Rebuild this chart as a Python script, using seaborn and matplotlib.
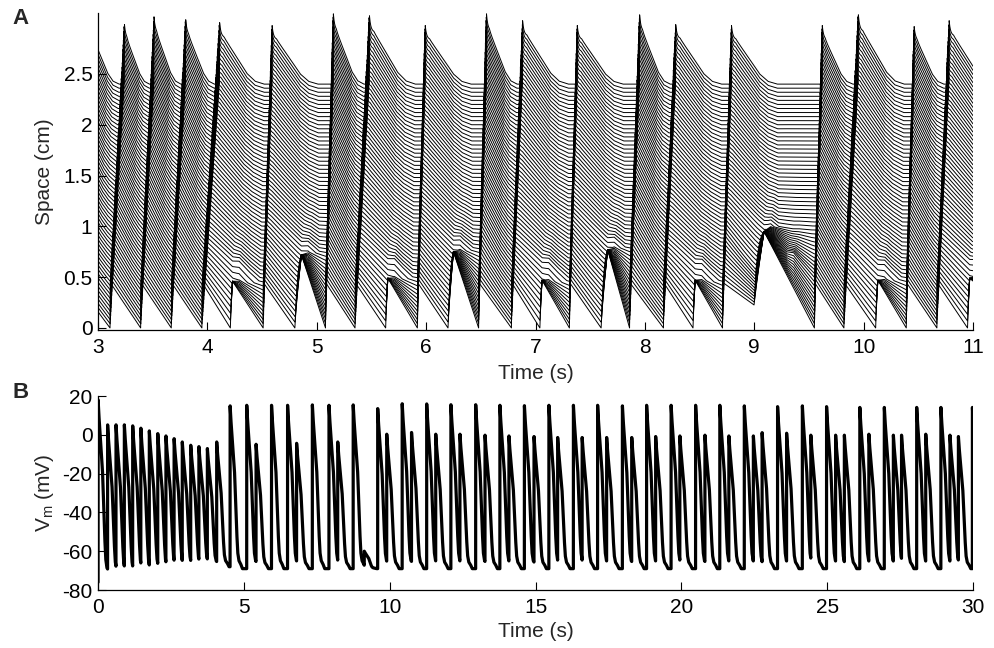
import numpy as np
import pandas as pd
import matplotlib
matplotlib.use("Agg")
import matplotlib.pyplot as plt
import seaborn as sns

# ---------------- panel A: waves ----------------
# full waves: onset at bottom trace (s), arrival at top trace (s), top peak (cm)
wave_t0 = [2.80, 3.11, 3.39, 3.67, 3.95, 4.51, 5.08, 5.35, 5.92, 6.48,
           6.78, 7.31, 7.86, 8.17, 8.71, 9.55, 9.82, 10.39, 10.67]
wave_t1 = [2.92, 3.24, 3.51, 3.80, 4.11, 4.59, 5.15, 5.48, 5.99, 6.55,
           6.88, 7.38, 7.95, 8.28, 8.79, 9.62, 9.95, 10.46, 10.78]
wave_top = [3.05, 3.01, 3.09, 3.06, 3.03, 3.00, 3.12, 3.10, 3.00, 3.12,
            3.05, 3.00, 3.11, 3.01, 3.00, 3.00, 3.11, 2.99, 3.05]
# local events that die out: onset (s), crest time (s), crest height (cm)
bump_t0 = [4.21, 4.80, 5.63, 6.20, 7.04, 7.60, 8.44, 8.98, 9.29, 10.11, 10.95]
bump_t1 = [4.23, 4.86, 5.65, 6.25, 7.06, 7.66, 8.46, 9.09, 9.30, 10.13, 10.97]
bump_h = [0.45, 0.71, 0.48, 0.74, 0.46, 0.76, 0.46, 0.94, 0.49, 0.46, 0.48]

# decay of one trace after the wave passed (fraction of decay time -> fraction of height)
decay_u = [0, 0.1, 0.62, 0.8, 1.0]
decay_top = [1.0, 0.98, 0.22, 0.06, 0.0]
hump_s = [0, 0.06, 0.15, 0.3, 0.42]
hump_v = [0, 1.0, 0.65, 0.15, 0.0]

# ---------------- panel B: spikes ----------------
spike_t = [0.004, 0.33, 0.617, 0.903, 1.19, 1.47, 1.76, 2.05, 2.33, 2.61, 2.89,
           3.18, 3.46, 3.75, 4.07, 4.53, 5.10, 5.42, 5.95, 6.50, 6.81, 7.35,
           7.92, 8.22, 8.75, 9.13, 9.59, 9.90, 10.43, 10.75, 11.27, 11.58,
           12.10, 12.41, 12.95, 13.27, 13.78, 14.09, 14.62, 14.95, 15.46,
           15.76, 16.30, 16.60, 17.13, 17.44, 17.98, 18.30, 18.81, 19.12,
           19.65, 19.95, 20.49, 20.81, 21.32, 21.63, 22.16, 22.47, 22.77,
           23.30, 23.61, 24.15, 24.44, 24.98, 25.29, 25.59, 26.12, 26.43,
           26.96, 27.27, 27.55, 28.07, 28.38, 28.90, 29.21, 29.50, 29.98]
spike_peak = [18, 5.1, 5.4, 5.4, 4.6, 3.4, 2.0, 0.6, -0.6, -2.0, -3.7,
              -5.4, -6.1, -7.1, -3.7, 14.9, 15.2, -4.9, 15.2, 15.2, -4.4, 15.4,
              15.2, -3.7, 15.4, -60, 13.5, 0.3, 16.0, 1.2, 15.9, 0.3,
              15.5, 0.3, 15.5, -0.2, 15.2, -0.6, 15.0, -0.9, 15.2,
              -1.4, 15.2, -1.4, 15.2, -1.4, 14.9, -1.4, 15.2, -0.9,
              15.2, -0.6, 15.2, -0.2, 15.2, -0.6, 14.9, -0.6, 1.1,
              14.5, 0.8, 14.9, -0.2, 14.5, -0.2, -0.2, 14.1, 0.3,
              14.1, -0.2, -0.2, 14.1, 0.3, 14.1, -0.2, -0.9, 14.1]
early_trough = [-73, -73, -73, -73, -72, -72, -71, -71, -70, -70, -69, -69, -68, -68, -68]
spike_s = [0, 0.02, 0.15, 0.22, 0.26, 0.30, 0.36, 0.42]
spike_g = [1.0, 0.93, 0.6, 0.25, 0.1, 0.05, 0.03, 0.0]

# ---------------- build panel A traces ----------------
t_a = np.arange(3.0, 11.0 + 1e-9, 0.002)
space = np.round(np.arange(61) * 0.04, 2)
frames = []
for i, x in enumerate(space):
    w = x / 2.4
    c = 1 - 0.15 * w
    dmax = 0.42 + 0.1 * (1 - w)
    arr = [t0 + (t1 - t0) * w for t0, t1 in zip(wave_t0, wave_t1)]
    v = np.zeros_like(t_a)
    # full waves
    for k, (ta, top) in enumerate(zip(arr, wave_top)):
        amp = 0.45 + (top - 2.4 - 0.45) * w
        nxt = arr[k + 1] if k + 1 < len(arr) else ta + 1.0
        d = min(dmax, c * (nxt - ta))
        for t0, t1, h in zip(bump_t0, bump_t1, bump_h):
            if ta < t0 < nxt and x < h:
                f = (h - x) / h
                d = d + f * (c * (t0 - ta) - d)
        s = t_a - ta
        m = (s >= 0) & (s <= d)
        sp = 0.25 * w
        shape = (1 - w) * (1 - s[m] / d) + w * np.interp(s[m] / d, decay_u, decay_top)
        val = amp * (sp * np.exp(-s[m] / 0.012) + (1 - sp) * shape)
        v[m] = np.maximum(v[m], val)
    # abortive events
    extra = np.zeros_like(t_a)
    for t0, t1, h in zip(bump_t0, bump_t1, bump_h):
        if x < h:
            amp = h - x + 0.01
            ts = t0 + (t1 - t0) * 0.4 * x / h
            later = [a for a in arr if a > t1]
            nxt = later[0] if later else t1 + 1.0
            d = min(dmax, c * (nxt - t1))
            s = t_a - t1
            rise = (t_a >= ts) & (t_a < t1)
            r = ((t_a[rise] - ts) / max(t1 - ts, 1e-3)) ** 0.8
            v[rise] = np.maximum(v[rise], amp * r)
            m = (s >= 0) & (s <= d)
            v[m] = np.maximum(v[m], amp * (1 - s[m] / d))
            hamp = 0.06 * x / h
        else:
            hamp = 0.06 * np.exp(-(x - h) / 0.25)
        s = t_a - (t1 + 0.1 * max(x - h, 0))
        extra += hamp * np.interp(s, hump_s, hump_v, left=0, right=0)
    frames.append(pd.DataFrame({"time": t_a, "y": x + v + extra, "trace": i}))
df_a = pd.concat(frames, ignore_index=True)

# ---------------- build panel B trace ----------------
t_b = np.arange(0, 30.0 + 1e-9, 0.002)
v_b = np.full_like(t_b, -76.0)
for j, (ts, pk) in enumerate(zip(spike_t, spike_peak)):
    tr = early_trough[j] if j < len(early_trough) else -69.0
    end = spike_t[j + 1] if j + 1 < len(spike_t) else 31.0
    m = (t_b >= ts) & (t_b < end)
    v_b[m] = tr + (pk - tr) * np.interp(t_b[m] - ts, spike_s, spike_g)
df_b = pd.DataFrame({"time": t_b, "vm": v_b})

# ---------------- plotting ----------------
sns.set_style("ticks")
plt.rcParams["font.family"] = ["Liberation Sans", "DejaVu Sans"]
plt.rcParams["mathtext.fontset"] = "custom"
plt.rcParams["mathtext.rm"] = "Liberation Sans"
plt.rcParams["mathtext.it"] = "Liberation Sans:italic"
plt.rcParams["axes.unicode_minus"] = False

fig = plt.figure(figsize=(9.94, 6.48), dpi=100)
ax_a = fig.add_axes([98 / 994, 1 - 330 / 648, 875 / 994, 317 / 648])
ax_b = fig.add_axes([98 / 994, 1 - 590 / 648, 875 / 994, 194 / 648])

sns.lineplot(data=df_a, x="time", y="y", units="trace", estimator=None, sort=False,
             color="black", linewidth=0.7, ax=ax_a)
sns.lineplot(data=df_b, x="time", y="vm", estimator=None, sort=False,
             color="black", linewidth=2.3, ax=ax_b)

ax_a.set_xlim(3, 11)
ax_a.set_ylim(-0.02, 3.1)
ax_a.set_xticks(range(3, 12))
ax_a.set_xticklabels([str(k) for k in range(3, 12)])
ax_a.set_yticks([0, 0.5, 1, 1.5, 2, 2.5])
ax_a.set_yticklabels(["0", "0.5", "1", "1.5", "2", "2.5"])
ax_a.set_xlabel("Time (s)", fontsize=15)
ax_a.set_ylabel("Space (cm)", fontsize=15)

ax_b.set_xlim(0, 30)
ax_b.set_ylim(-80, 20)
ax_b.set_xticks(range(0, 31, 5))
ax_b.set_yticks(range(-80, 21, 20))
ax_b.set_xlabel("Time (s)", fontsize=15)
ax_b.set_ylabel(r"V$_\mathrm{m}$ (mV)", fontsize=15)

for ax, xl_y in [(ax_a, -0.138), (ax_b, -0.214)]:
    sns.despine(ax=ax)
    ax.tick_params(direction="in", length=6, width=0.8, labelsize=15, colors="black")
    ax.tick_params(axis="x", pad=6)
    ax.tick_params(axis="y", pad=4)
    for sp in ["left", "bottom"]:
        ax.spines[sp].set_linewidth(0.9)
        ax.spines[sp].set_color("black")
    ax.xaxis.set_label_coords(0.5, xl_y)
    ax.xaxis.label.set_verticalalignment("center")
    ax.yaxis.set_label_coords(-0.0606, 0.5)
    ax.yaxis.label.set_verticalalignment("center")

fig.text(12 / 994, 1 - 18 / 648, "A", fontsize=16, fontweight="bold", va="center", ha="left")
fig.text(12 / 994, 1 - 392 / 648, "B", fontsize=16, fontweight="bold", va="center", ha="left")

fig.savefig("out.png", dpi=100)
